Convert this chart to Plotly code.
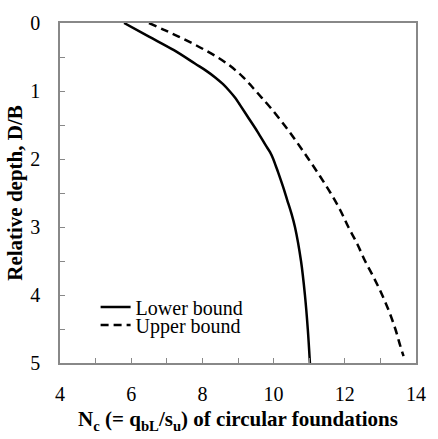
import plotly.graph_objects as go

# Bearing capacity factor vs. relative embedment depth
depth_lower = [0, 0.2, 0.4, 0.6, 0.7, 0.8, 0.9, 1.0, 1.1, 1.2, 1.4, 1.6, 1.8,
               1.9, 2.0, 2.1, 2.2, 2.4, 2.6, 2.8, 3.0, 3.5, 4.0, 4.5, 5.0]
nc_lower = [5.8, 6.5, 7.2, 7.8, 8.1, 8.36, 8.58, 8.76, 8.92, 9.05, 9.3, 9.55,
            9.78, 9.9, 9.99, 10.06, 10.13, 10.26, 10.38, 10.5, 10.6, 10.77,
            10.88, 10.96, 11.02]

depth_upper = [0, 0.1, 0.2, 0.3, 0.4, 0.5, 0.6, 0.7, 0.8, 0.9, 1.0, 1.1, 1.25,
               1.5, 1.75, 2.0, 2.25, 2.5, 2.75, 3.0, 3.25, 3.5, 3.75, 4.0,
               4.25, 4.5, 4.75, 4.9]
nc_upper = [6.5, 6.92, 7.33, 7.72, 8.08, 8.41, 8.7, 8.94, 9.15, 9.33, 9.5,
            9.67, 9.92, 10.3, 10.65, 10.98, 11.3, 11.6, 11.87, 12.1, 12.35,
            12.57, 12.82, 13.05, 13.25, 13.42, 13.56, 13.65]

x_ticks = [4, 5, 6, 7, 8, 9, 10, 11, 12, 13, 14]
x_labels = ["4", "", "6", "", "8", "", "10", "", "12", "", "14"]
y_ticks = [0, 0.5, 1, 1.5, 2, 2.5, 3, 3.5, 4, 4.5, 5]
y_labels = ["0", "", "1", "", "2", "", "3", "", "4", "", "5"]

FONT = "'Liberation Serif', 'Times New Roman', serif"
AXIS_GREY = "#888888"

fig = go.Figure()
fig.add_trace(go.Scatter(
    x=nc_lower, y=depth_lower, mode="lines", name="Lower bound",
    line=dict(color="black", width=2.5, shape="spline", smoothing=1.0),
    legend="legend",
))
fig.add_trace(go.Scatter(
    x=nc_upper, y=depth_upper, mode="lines", name="Upper bound",
    line=dict(color="black", width=2.5, dash="8px,5px", shape="spline", smoothing=1.0),
    legend="legend2",
))

axis_common = dict(
    showgrid=False, zeroline=False,
    showline=True, linecolor=AXIS_GREY, linewidth=1.5, mirror=True,
    ticks="inside", ticklen=5, tickwidth=1.2, tickcolor=AXIS_GREY,
    tickfont=dict(family=FONT, size=20, color="black"),
    tickmode="array",
)

legend_common = dict(
    xanchor="left", yanchor="middle", bgcolor="rgba(0,0,0,0)",
    itemwidth=30, font=dict(family=FONT, size=20, color="black"),
)

fig.update_layout(
    width=438, height=439,
    margin=dict(l=60, r=12, t=14, b=67),
    paper_bgcolor="white", plot_bgcolor="white",
    font=dict(family=FONT, color="black"),
    showlegend=True,
    legend=dict(x=0.1, y=0.165, **legend_common),
    legend2=dict(x=0.1, y=0.112, **legend_common),
    xaxis=dict(
        range=[4, 14], tickvals=x_ticks, ticktext=x_labels,
        ticklabelstandoff=12,
        title=dict(
            text="<b>N<sub>c</sub> (= q<sub>bL</sub>/s<sub>u</sub>) of circular foundations</b>",
            font=dict(family=FONT, size=21, color="black"), standoff=8,
        ),
        **axis_common,
    ),
    yaxis=dict(
        range=[5, 0], tickvals=y_ticks, ticktext=y_labels,
        ticklabelstandoff=14,
        title=dict(
            text="<b>Relative depth, D/B</b>",
            font=dict(family=FONT, size=21, color="black"), standoff=2,
        ),
        **axis_common,
    ),
)

fig.write_html("out.html")
